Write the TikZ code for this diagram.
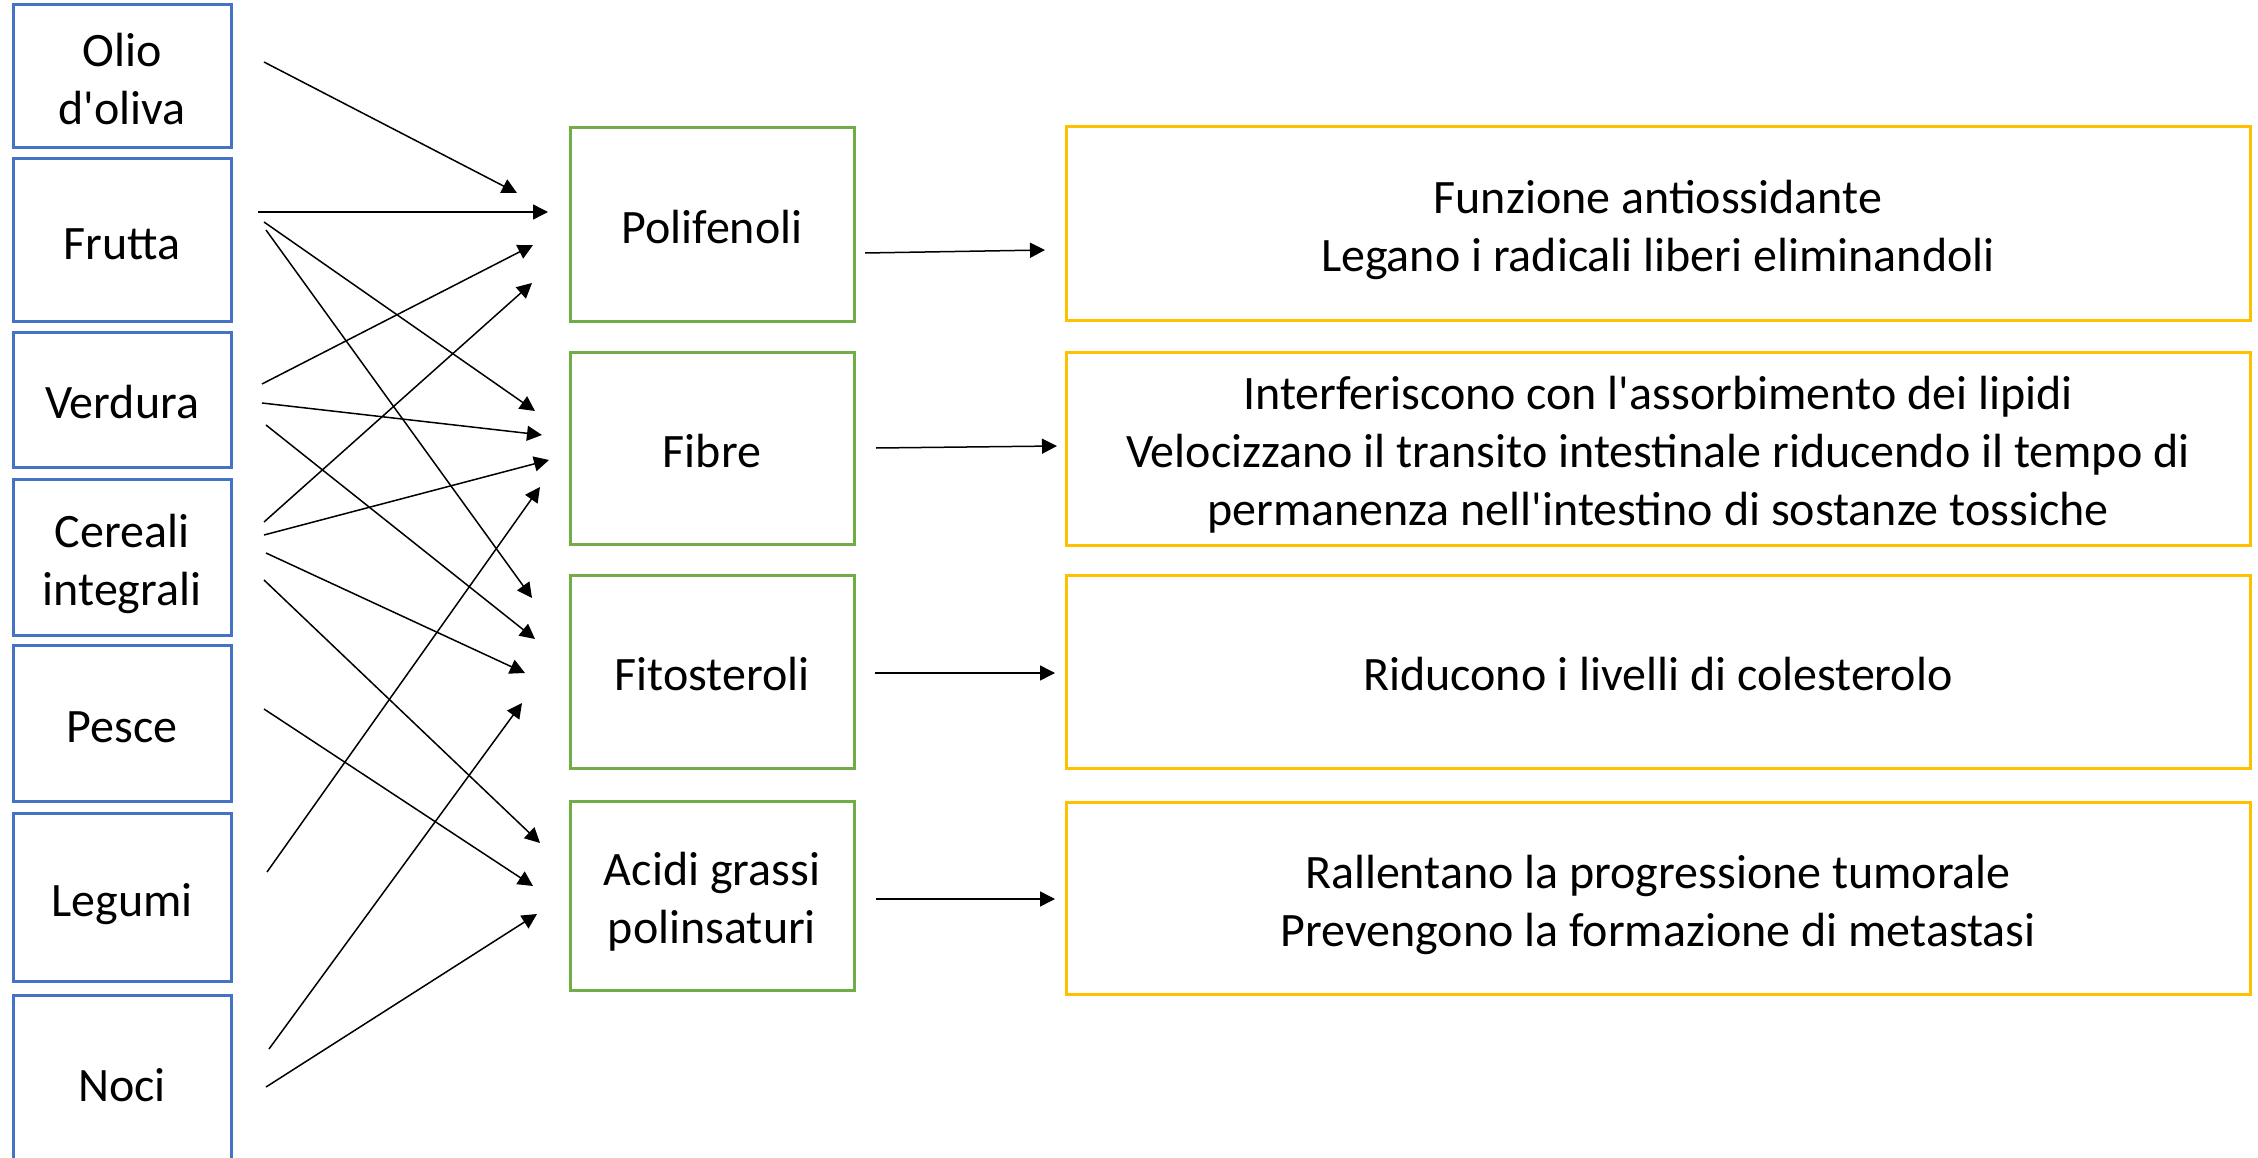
\documentclass[tikz,border=0pt]{standalone}
\usepackage{fontspec}
\setmainfont{Carlito}
\usetikzlibrary{arrows.meta}
\definecolor{cblue}{HTML}{4472C4}
\definecolor{cgreen}{HTML}{70AD47}
\definecolor{cgold}{HTML}{FFC000}
\newcommand\ls{\rule[-10pt]{0pt}{58pt}}
\newcommand\ap{\textquotesingle}
\tikzset{
  box/.style={draw, line width=3pt, inner sep=0pt, outer sep=0pt, align=center,
              font=\fontsize{48}{58}\selectfont},
  foodbox/.style={box, cblue, text=black, minimum width=218pt},
  compbox/.style={box, cgreen, text=black, minimum width=284pt},
  effbox/.style={box, cgold, text=black, minimum width=1184pt},
  arr/.style={line width=1.5pt, -{Triangle[length=15pt,width=15pt]}}
}
\begin{document}
\begin{tikzpicture}[x=1pt, y=-1pt]
\useasboundingbox (0,0) rectangle (2258,1158);
\fill[white] (0,0) rectangle (2258,1158);
\clip (0,0) rectangle (2258,1158);
% food boxes
\node[foodbox, minimum height=143pt] (olio) at (122,76.5) {\ls Olio\\\ls d\ap oliva};
\node[foodbox, minimum height=162pt] (frutta) at (122,240) {\ls Frutta};
\node[foodbox, minimum height=135pt] (verdura) at (122,399.5) {\ls Verdura};
\node[foodbox, minimum height=156pt] (cereali) at (122,557) {\ls Cereali\\\ls integrali};
\node[foodbox, minimum height=156pt] (pesce) at (122,723) {\ls Pesce};
\node[foodbox, minimum height=168pt] (legumi) at (122,897) {\ls Legumi};
\node[foodbox, minimum height=175pt] (noci) at (122,1082.5) {\ls Noci};
% component boxes
\node[compbox, minimum height=193pt] (poli) at (712,224.5) {\ls Polifenoli};
\node[compbox, minimum height=192pt] (fibre) at (712,448) {\ls Fibre};
\node[compbox, minimum height=193pt] (fito) at (712,671.5) {\ls Fitosteroli};
\node[compbox, minimum height=189pt] (acidi) at (712,895.5) {\ls Acidi grassi\\\ls polinsaturi};
% effect boxes
\node[effbox, minimum height=193pt] (e1) at (1658,223.5) {\ls Funzione antiossidante\\\ls Legano i radicali liberi eliminandoli};
\node[effbox, minimum height=193pt] (e2) at (1658,448.5) {\ls Interferiscono con l\ap assorbimento dei lipidi\\\ls Velocizzano il transito intestinale riducendo il tempo di\\\ls permanenza nell\ap intestino di sostanze tossiche};
\node[effbox, minimum height=193pt] (e3) at (1658,671.5) {\ls Riducono i livelli di colesterolo};
\node[effbox, minimum height=192pt] (e4) at (1658,898) {\ls Rallentano la progressione tumorale\\\ls Prevengono la formazione di metastasi};
% food -> component arrows
\draw[arr] ([shift={(33,-14.5)}]olio.east) -- ([shift={(-53,-31.5)}]poli.west);
\draw[arr] ([shift={(27,-28)}]frutta.east) -- ([shift={(-22,-12.5)}]poli.west);
\draw[arr] ([shift={(33,-18)}]frutta.east) -- ([shift={(-35,-37)}]fibre.west);
\draw[arr] ([shift={(35,-10)}]frutta.east) -- ([shift={(-38,-73.5)}]fito.west);
\draw[arr] ([shift={(31,-15.5)}]verdura.east) -- ([shift={(-37,20.5)}]poli.west);
\draw[arr] ([shift={(31,3.5)}]verdura.east) -- ([shift={(-28,-13)}]fibre.west);
\draw[arr] ([shift={(35,25.5)}]verdura.east) -- ([shift={(-35,-32.5)}]fito.west);
\draw[arr] ([shift={(33,-35)}]cereali.east) -- ([shift={(-38,58.5)}]poli.west);
\draw[arr] ([shift={(33,-22)}]cereali.east) -- ([shift={(-21,12)}]fibre.west);
\draw[arr] ([shift={(35,-4)}]cereali.east) -- ([shift={(-45,1.5)}]fito.west);
\draw[arr] ([shift={(33,23)}]cereali.east) -- ([shift={(-30,-52.5)}]acidi.west);
\draw[arr] ([shift={(33,-14)}]pesce.east) -- ([shift={(-37,-9.5)}]acidi.west);
\draw[arr] ([shift={(36,-25)}]legumi.east) -- ([shift={(-30,39)}]fibre.west);
\draw[arr] ([shift={(38,-33.5)}]noci.east) -- ([shift={(-48,31.5)}]fito.west);
\draw[arr] ([shift={(35,4.5)}]noci.east) -- ([shift={(-33,18.5)}]acidi.west);
% component -> effect arrows
\draw[arr] ([shift={(11,28.5)}]poli.east) -- ([shift={(-21,26.5)}]e1.west);
\draw[arr] ([shift={(22,0)}]fibre.east) -- ([shift={(-9,-2.5)}]e2.west);
\draw[arr] ([shift={(21,1.5)}]fito.east) -- ([shift={(-11,1.5)}]e3.west);
\draw[arr] ([shift={(22,3.5)}]acidi.east) -- ([shift={(-11,1)}]e4.west);
\end{tikzpicture}
\end{document}
